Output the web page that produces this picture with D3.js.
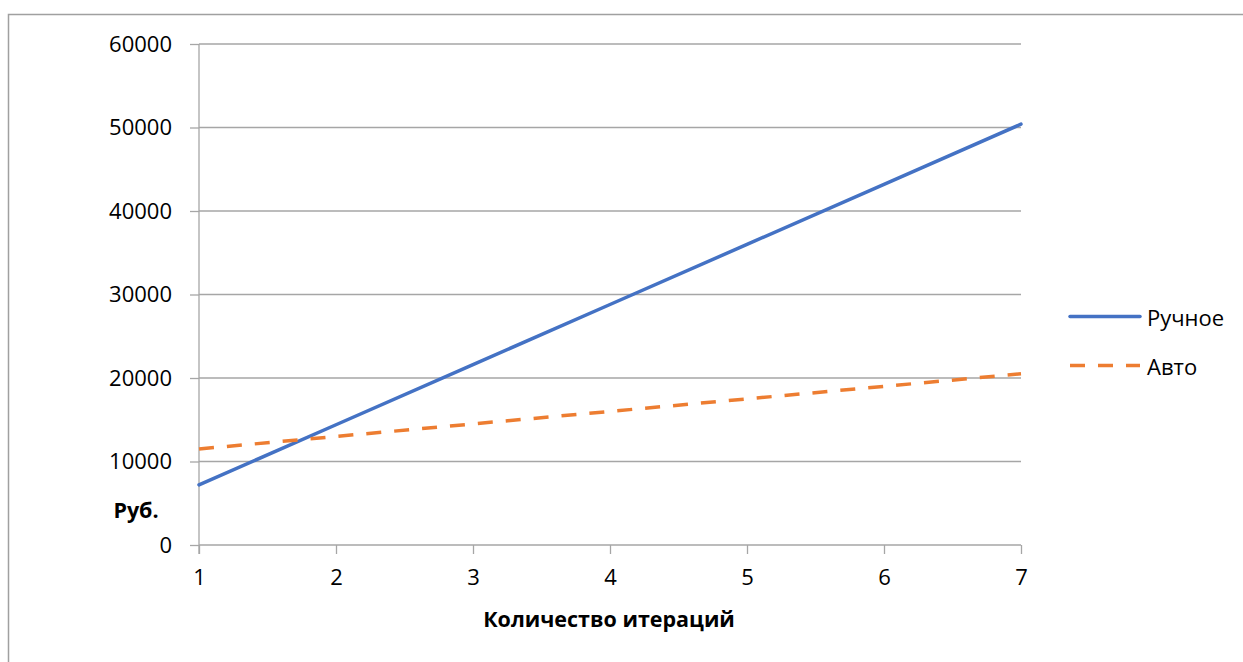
<!DOCTYPE html>
<html>
<head>
<meta charset="utf-8">
<script src="https://cdn.jsdelivr.net/npm/d3@7"></script>
<style>
  html, body { margin: 0; padding: 0; background: #fff; }
  svg text { font-family: "Open Sans", "Noto Sans", sans-serif; fill: #000; }
</style>
</head>
<body>
<svg id="chart" width="1243" height="662"></svg>
<script>
// Iterations on the x axis
const iterations = [1, 2, 3, 4, 5, 6, 7];
// Cost in roubles: manual vs automated
const manualCost = [7200, 14400, 21600, 28800, 36000, 43200, 50400];
const autoCost = [11500, 13000, 14500, 16000, 17500, 19000, 20500];
const yTicks = [0, 10000, 20000, 30000, 40000, 50000, 60000];

const series = [
  { name: "Ручное", values: manualCost, color: "#4472C4", dash: null },
  { name: "Авто", values: autoCost, color: "#ED7D31", dash: "15,13" }
];

const FONT = 22;
const TITLE_FONT = 21.5;
const svg = d3.select("#chart");

// Outer chart frame
svg.append("path")
  .attr("d", "M8.5,662 L8.5,14.5 L1243,14.5")
  .attr("fill", "none")
  .attr("stroke", "#a0a0a0")
  .attr("stroke-width", 1.5);

const x = d3.scaleLinear().domain([1, 7]).range([199, 1021]);
const y = d3.scaleLinear().domain([0, 60000]).range([545, 44]);

// Horizontal gridlines
svg.append("g")
  .selectAll("line")
  .data(yTicks.filter(d => d > 0))
  .join("line")
  .attr("x1", x(1)).attr("x2", x(7))
  .attr("y1", d => y(d)).attr("y2", d => y(d))
  .attr("stroke", "#a6a6a6")
  .attr("stroke-width", 1.3);

// Y axis
const yAxis = svg.append("g")
  .attr("transform", `translate(${x(1)},0)`)
  .call(d3.axisLeft(y).tickValues(yTicks).tickSize(9).tickPadding(18).tickFormat(d3.format("d")));
yAxis.attr("font-size", null).attr("font-family", null);
yAxis.selectAll("path, line").attr("stroke", "#a6a6a6").attr("stroke-width", 1.3);
yAxis.select(".domain").attr("d", `M0,${y(0) + 9}V${y(60000)}`);
yAxis.selectAll("text").style("font-size", FONT + "px");

// X axis
const xAxis = svg.append("g")
  .attr("transform", `translate(0,${y(0)})`)
  .call(d3.axisBottom(x).tickValues(iterations).tickSize(9).tickPadding(15).tickFormat(d3.format("d")));
xAxis.attr("font-size", null).attr("font-family", null);
xAxis.selectAll("path, line").attr("stroke", "#a6a6a6").attr("stroke-width", 1.3);
xAxis.select(".domain").attr("d", `M${x(1)},0H${x(7)}`);
xAxis.selectAll("text").style("font-size", FONT + "px");

// Axis titles
svg.append("text")
  .attr("x", 609).attr("y", 627)
  .attr("text-anchor", "middle")
  .style("font-size", TITLE_FONT + "px").attr("font-weight", "bold")
  .text("Количество итераций");

svg.append("text")
  .attr("x", 136).attr("y", 518)
  .attr("text-anchor", "middle")
  .style("font-size", TITLE_FONT + "px").attr("font-weight", "bold")
  .text("Руб.");

// Series lines
const line = d3.line()
  .x((d, i) => x(iterations[i]))
  .y(d => y(d));

series.forEach(s => {
  svg.append("path")
    .datum(s.values)
    .attr("d", line)
    .attr("fill", "none")
    .attr("stroke", s.color)
    .attr("stroke-width", 3.5)
    .attr("stroke-linecap", s.dash ? "butt" : "round")
    .attr("stroke-dasharray", s.dash);
});

// Legend
const legend = svg.append("g");
series.forEach((s, i) => {
  const ly = 316.5 + i * 49;
  legend.append("line")
    .attr("x1", 1070).attr("x2", 1140)
    .attr("y1", ly).attr("y2", ly)
    .attr("stroke", s.color)
    .attr("stroke-width", 3.5)
    .attr("stroke-linecap", s.dash ? "butt" : "round")
    .attr("stroke-dasharray", s.dash);
  legend.append("text")
    .attr("x", 1147).attr("y", ly + 9)
    .style("font-size", FONT + "px")
    .text(s.name);
});
</script>
</body>
</html>
